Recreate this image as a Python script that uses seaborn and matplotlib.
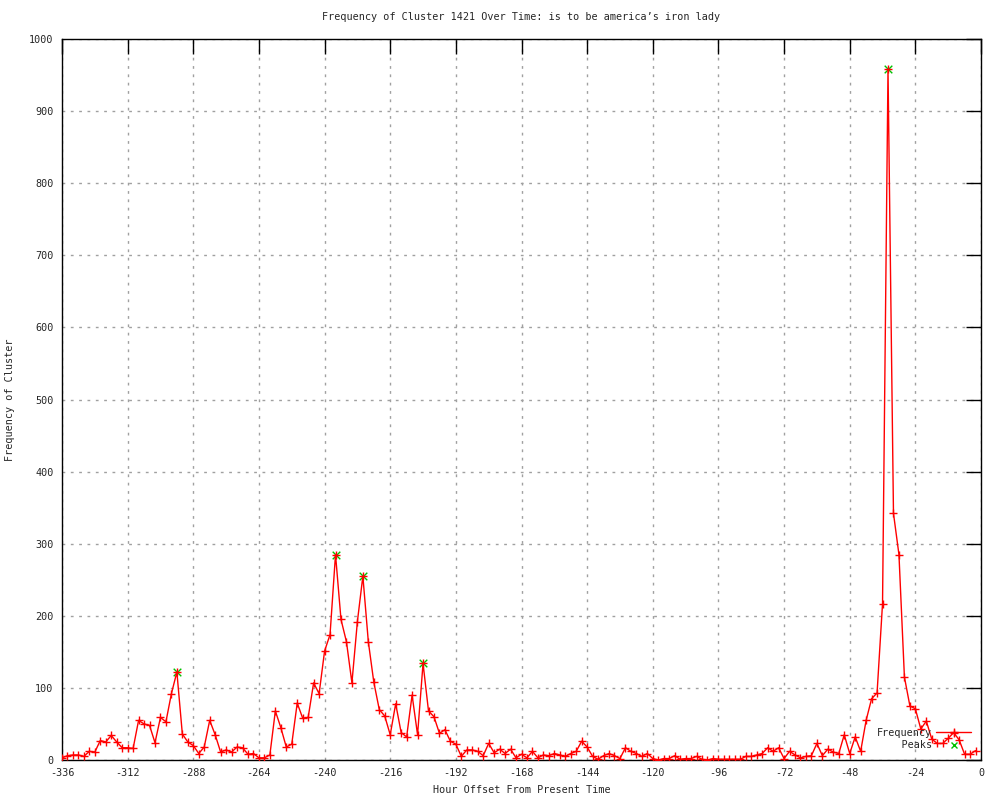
import seaborn as sns
import pandas as pd
import matplotlib.pyplot as plt
from matplotlib.lines import Line2D

# hourly offsets (every 2 hours) and cluster frequency
hours = list(range(-336, 0, 2))
freq = [3, 6, 7, 7, 5, 12, 11, 27, 25, 34,
        25, 17, 17, 16, 55, 50, 48, 24, 59, 53,
        92, 122, 36, 25, 20, 9, 18, 55, 35, 11,
        14, 11, 18, 17, 8, 9, 3, 3, 7, 68,
        45, 18, 22, 79, 58, 59, 107, 92, 151, 174,
        285, 195, 164, 107, 192, 255, 164, 108, 70, 61,
        35, 78, 38, 32, 90, 35, 134, 68, 60, 37,
        42, 26, 22, 5, 14, 14, 12, 6, 23, 10,
        15, 9, 15, 3, 8, 3, 12, 3, 7, 6,
        9, 7, 5, 9, 12, 26, 18, 5, 1, 6,
        9, 6, 2, 17, 12, 9, 5, 9, 2, 0,
        2, 2, 6, 1, 2, 2, 5, 1, 0, 2,
        1, 1, 1, 1, 1, 5, 5, 7, 9, 17,
        12, 17, 2, 12, 7, 3, 5, 6, 23, 6,
        15, 11, 9, 35, 9, 32, 12, 55, 85, 93,
        217, 958, 342, 285, 115, 75, 71, 43, 54, 29,
        23, 23, 30, 38, 28, 8, 8, 13]

peak_hours = [-294, -236, -226, -204, -34]
peak_vals = [122, 285, 255, 134, 958]

df = pd.DataFrame({'hour': hours, 'freq': freq})
peaks = pd.DataFrame({'hour': peak_hours, 'freq': peak_vals})

sns.set_style('white')
plt.rcParams['font.family'] = ['DejaVu Sans Mono']
plt.rcParams['font.size'] = 7.3
plt.rcParams['axes.unicode_minus'] = False  # gnuplot style hyphen minus

fig = plt.figure(figsize=(10, 8), dpi=100)
ax = fig.add_axes([0.062, 0.05, 0.919, 0.90125])

sns.scatterplot(data=peaks, x='hour', y='freq', marker='x', color='#00c000',
                s=30, linewidth=1, ax=ax, zorder=2, legend=False)
sns.lineplot(data=df, x='hour', y='freq', color='red', linewidth=1,
             marker='+', markersize=5.5, markeredgewidth=1, mec='red',
             ax=ax, zorder=3, legend=False)

ax.set_xlim(-336, 0)
ax.set_ylim(0, 1000)
ax.set_xticks(range(-336, 1, 24))
ax.set_yticks(range(0, 1001, 100))
ax.grid(True, color='#a0a0a0', linestyle=(0, (2, 4)), linewidth=1)
ax.tick_params(direction='in', length=11, width=1, top=True, right=True,
               labelsize=7.3, color='black', pad=6)
for s in ax.spines.values():
    s.set_color('black')
    s.set_linewidth(1)

ax.set_title("Frequency of Cluster 1421 Over Time: is to be america\u2019s iron lady",
             fontsize=7.3, pad=14)
ax.set_xlabel('Hour Offset From Present Time', fontsize=7.3, labelpad=5)
ax.set_ylabel('Frequency of Cluster', fontsize=7.3, labelpad=10)

# legend: text right aligned, sample on the right like gnuplot
handles = [Line2D([], [], color='red', linewidth=1, marker='+', markersize=5.5),
           Line2D([], [], color='#00c000', linestyle='none', marker='x', markersize=5)]
ax.legend(handles, ['Frequency', '    Peaks'], loc='lower right', frameon=False,
          markerfirst=False, fontsize=7.3, handlelength=3.4, handletextpad=0.4,
          labelspacing=0.25, bbox_to_anchor=(0.999, 0.001))

plt.savefig('out.png', dpi=100)
